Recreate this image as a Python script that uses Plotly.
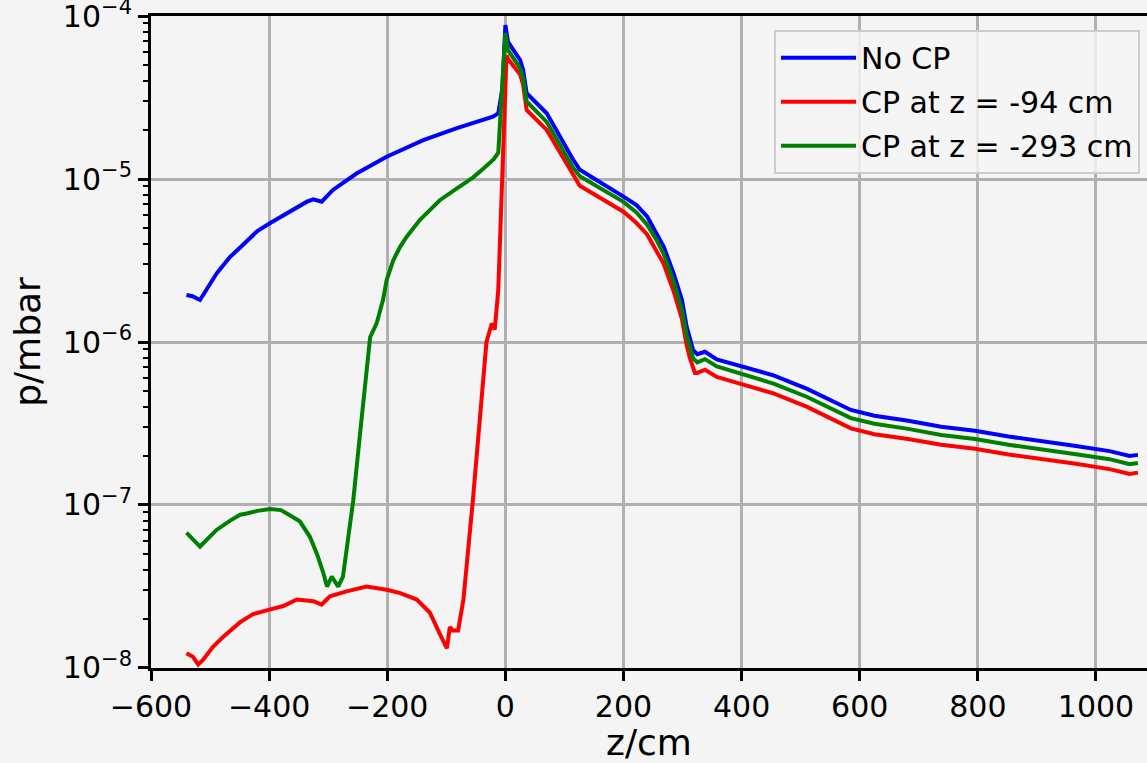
import plotly.graph_objects as go

# ---- data ----
z_blue = [-540, -530, -517, -506, -489, -478, -466, -449, -438, -420, -398, -365, -336, -325, -311, -292, -280,
          -252, -201, -167, -139, -82, -21, -12, -5,
          0, 4.5, 25, 30, 36, 70, 115, 126, 200, 222, 240, 256, 268, 285, 292, 299, 307, 312.6, 318, 325, 338,
          358, 397, 454, 511, 545, 585, 625, 682, 738, 795, 852, 909, 966, 1023, 1057, 1071]
p_blue = [1.94e-6, 1.91e-6, 1.81e-6, 2.09e-6, 2.63e-6, 2.95e-6, 3.33e-6, 3.80e-6, 4.17e-6, 4.79e-6, 5.37e-6,
          6.31e-6, 7.26e-6, 7.50e-6, 7.26e-6, 8.57e-6, 9.18e-6,
          1.08e-5, 1.37e-5, 1.55e-5, 1.73e-5, 2.05e-5, 2.41e-5, 2.53e-5, 3.6e-5,
          8.81e-5, 6.95e-5, 5.37e-5, 4.68e-5, 3.36e-5, 2.53e-5, 1.31e-5, 1.14e-5, 7.80e-6, 6.92e-6, 5.89e-6,
          4.68e-6, 3.85e-6, 2.63e-6, 2.19e-6, 1.81e-6, 1.24e-6, 1.02e-6, 8.91e-7, 8.41e-7, 8.71e-7,
          7.83e-7, 7.13e-7, 6.24e-7, 5.16e-7, 4.47e-7, 3.83e-7, 3.53e-7, 3.29e-7, 3.02e-7, 2.85e-7, 2.63e-7,
          2.47e-7, 2.30e-7, 2.14e-7, 2.00e-7, 2.03e-7]

z_red = [-540, -529, -520, -512, -495, -478, -449, -427, -398, -376, -353, -325, -311, -297, -269, -235, -201,
         -178, -150, -128, -111, -99, -94, -89, -80, -71, -55, -32, -23, -18, -12, -6,
         2, 4.5, 25, 30, 36, 70, 115, 126, 200, 222, 240, 256, 268, 285, 292, 299, 307, 312.6, 321, 325, 338,
         358, 397, 454, 511, 545, 585, 625, 682, 738, 795, 852, 909, 966, 1023, 1057, 1071]
p_red = [1.23e-8, 1.17e-8, 1.05e-8, 1.12e-8, 1.35e-8, 1.55e-8, 1.91e-8, 2.14e-8, 2.29e-8, 2.40e-8, 2.63e-8,
         2.57e-8, 2.45e-8, 2.75e-8, 2.95e-8, 3.16e-8, 3.02e-8, 2.88e-8, 2.63e-8, 2.19e-8, 1.62e-8, 1.32e-8,
         1.78e-8, 1.70e-8, 1.70e-8, 2.63e-8, 1.07e-7, 1.00e-6, 1.30e-6, 1.19e-6, 2.09e-6, 7.41e-6,
         5.75e-5, 5.45e-5, 4.37e-5, 3.80e-5, 2.65e-5, 2.00e-5, 1.04e-5, 9.10e-6, 6.30e-6, 5.37e-6, 4.57e-6,
         3.63e-6, 3.02e-6, 2.04e-6, 1.66e-6, 1.38e-6, 9.55e-7, 7.94e-7, 6.46e-7, 6.46e-7, 6.76e-7,
         6.10e-7, 5.55e-7, 4.84e-7, 4.00e-7, 3.47e-7, 2.95e-7, 2.72e-7, 2.54e-7, 2.34e-7, 2.21e-7, 2.04e-7,
         1.92e-7, 1.79e-7, 1.66e-7, 1.55e-7, 1.58e-7]

z_green = [-540, -517, -506, -489, -466, -449, -438, -420, -398, -380, -370, -348, -331, -319, -308, -302, -294,
           -283, -275, -257.5, -246, -229, -218, -207, -201, -190, -178, -167, -145, -122, -111, -82, -55, -37,
           -20, -12, -6,
           0, 4.5, 25, 30, 36, 70, 115, 126, 200, 222, 240, 256, 268, 285, 292, 299, 307, 312.6, 318, 325, 338,
           358, 397, 454, 511, 545, 585, 625, 682, 738, 795, 852, 909, 966, 1023, 1057, 1071]
p_green = [6.76e-8, 5.56e-8, 6.10e-8, 7.03e-8, 8.02e-8, 8.71e-8, 8.87e-8, 9.20e-8, 9.44e-8, 9.30e-8, 8.87e-8,
           7.94e-8, 6.38e-8, 5.01e-8, 3.80e-8, 3.16e-8, 3.63e-8,
           3.16e-8, 3.63e-8, 1.07e-7, 2.75e-7, 1.07e-6, 1.30e-6, 1.82e-6, 2.40e-6, 3.16e-6, 3.85e-6, 4.43e-6,
           5.60e-6, 6.76e-6, 7.41e-6, 8.77e-6, 1.02e-5, 1.16e-5, 1.32e-5, 1.45e-5, 3.05e-5,
           7.87e-5, 6.17e-5, 4.78e-5, 4.17e-5, 2.99e-5, 2.24e-5, 1.17e-5, 1.04e-5, 7.24e-6, 6.24e-6, 5.25e-6,
           4.22e-6, 3.47e-6, 2.34e-6, 1.95e-6, 1.58e-6, 1.10e-6, 9.12e-7, 7.94e-7, 7.50e-7, 7.85e-7,
           7.08e-7, 6.38e-7, 5.56e-7, 4.60e-7, 3.98e-7, 3.41e-7, 3.15e-7, 2.93e-7, 2.69e-7, 2.54e-7, 2.34e-7,
           2.20e-7, 2.05e-7, 1.91e-7, 1.78e-7, 1.81e-7]

series_names = ["No CP", "CP at z = -94 cm", "CP at z = -293 cm"]
x_ticks = [-600, -400, -200, 0, 200, 400, 600, 800, 1000]
x_ticktext = ["\u2212600", "\u2212400", "\u2212200", "0", "200", "400", "600", "800", "1000"]
y_ticks = [1e-8, 1e-7, 1e-6, 1e-5, 1e-4]
y_ticktext = ["10<sup>\u22128</sup>", "10<sup>\u22127</sup>", "10<sup>\u22126</sup>",
              "10<sup>\u22125</sup>", "10<sup>\u22124</sup>"]
y_minor = [m * 10.0 ** e for e in range(-8, -4) for m in range(2, 10)]

FONT = "DejaVu Sans"
BG = "#f4f4f4"

fig = go.Figure()
for i, (zz, pp, name, col) in enumerate([(z_blue, p_blue, series_names[0], "#0000ff"),
                                         (z_red, p_red, series_names[1], "#ff0000"),
                                         (z_green, p_green, series_names[2], "#008000")]):
    fig.add_trace(go.Scatter(x=zz, y=pp, mode="lines", name=name, legendgroup=f"g{i}",
                             line=dict(color=col, width=4)))

fig.update_layout(
    width=1147, height=763,
    margin=dict(l=151, r=0, t=16, b=95),
    paper_bgcolor=BG, plot_bgcolor=BG,
    font=dict(family=FONT, size=30, color="black"),
    showlegend=True,
    legend=dict(x=0.993, y=0.979, xanchor="right", yanchor="top",
                bgcolor="rgba(244,244,244,0.85)", bordercolor="#cccccc", borderwidth=2,
                font=dict(family=FONT, size=30), itemwidth=75, tracegroupgap=2),
)
fig.update_xaxes(
    range=[-600, 1086.4], tickvals=x_ticks, ticktext=x_ticktext,
    showgrid=True, gridcolor="#b0b0b0", gridwidth=2.5, zeroline=False,
    showline=True, linecolor="black", linewidth=3, mirror=True,
    ticks="outside", ticklen=10, tickwidth=3, tickcolor="black",
    tickfont=dict(family=FONT, size=30), ticklabeloverflow="allow",
    title=dict(text="z/cm", font=dict(family=FONT, size=36), standoff=6),
    automargin=False,
)
fig.update_yaxes(
    type="log", range=[-8.0002, -3.9998], tickvals=y_ticks, ticktext=y_ticktext,
    showgrid=True, gridcolor="#b0b0b0", gridwidth=2.5, zeroline=False,
    showline=True, linecolor="black", linewidth=3,
    ticks="outside", ticklen=10, tickwidth=3, tickcolor="black",
    tickfont=dict(family=FONT, size=30), ticklabeloverflow="allow",
    minor=dict(tickmode="array", tickvals=y_minor, ticks="outside", ticklen=5, tickwidth=2,
               tickcolor="black", showgrid=False),
    title=dict(text="p/mbar", font=dict(family=FONT, size=36), standoff=12),
    automargin=False,
)

fig.write_html("out.html")
